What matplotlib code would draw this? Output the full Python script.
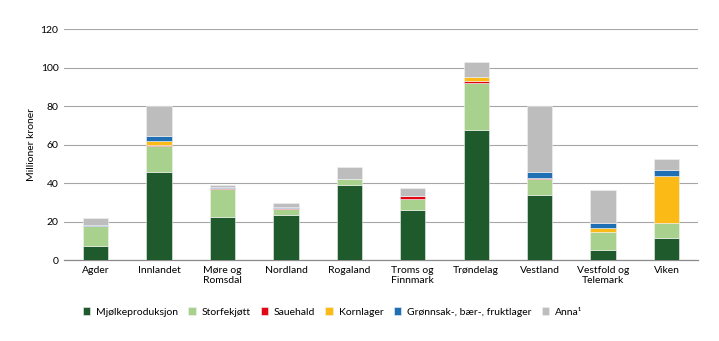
import matplotlib
matplotlib.use("Agg")
import matplotlib.pyplot as plt
import numpy as np

plt.rcParams['font.family'] = ['Lato', 'DejaVu Sans']

regions = ["Agder", "Innlandet", "Møre og\nRomsdal", "Nordland", "Rogaland",
           "Troms og\nFinnmark", "Trøndelag", "Vestland", "Vestfold og\nTelemark", "Viken"]

mjolk    = [7.4, 46.0, 22.5, 23.4, 38.8, 26.0, 67.5, 33.8, 5.2, 11.3]
storfe   = [10.4, 13.5, 14.3, 3.1, 3.2, 5.6, 24.4, 8.3, 9.5, 8.1]
sau      = [0.0, 0.4, 0.4, 0.7, 0.0, 1.7, 1.2, 0.4, 0.0, 0.0]
korn     = [0.0, 2.0, 0.0, 0.0, 0.0, 0.0, 2.1, 0.0, 2.1, 24.4]
gronn    = [0.3, 2.6, 0.6, 0.5, 0.0, 0.0, 0.0, 3.1, 2.3, 3.0]
anna     = [3.6, 15.3, 1.4, 1.8, 6.2, 4.3, 7.6, 34.2, 17.3, 5.6]

series = [
    ("Mjølkeproduksjon", mjolk, "#1e5a2b"),
    ("Storfekjøtt", storfe, "#a9d18e"),
    ("Sauehald", sau, "#e30613"),
    ("Kornlager", korn, "#fbba16"),
    ("Grønnsak-, bær-, fruktlager", gronn, "#1f6fb5"),
    ("Anna¹", anna, "#bdbdbd"),
]

yticks = [0, 20, 40, 60, 80, 100, 120]

fig = plt.figure(figsize=(7.19, 3.41), dpi=100)
ax = fig.add_axes([0.089, 0.2375, 0.882, 0.677])

x = np.arange(len(regions))
bottom = np.zeros(len(regions))
for name, vals, col in series:
    v = np.array(vals)
    ax.bar(x, v, width=0.4, bottom=bottom, color=col, label=name,
           edgecolor='#f2f2f2', linewidth=0.4, zorder=3)
    bottom += v

ax.set_xlim(-0.5, len(regions) - 0.5)
ax.set_ylim(0, 120)
ax.set_yticks(yticks)
ax.set_yticklabels([str(t) for t in yticks], fontsize=7.5)
ax.set_xticks(x)
ax.set_xticklabels(regions, fontsize=7.5, linespacing=1.2)
ax.tick_params(axis='both', length=0, pad=4)
ax.yaxis.grid(True, color='#a6a6a6', linewidth=0.8, zorder=0)
for s in ['top', 'right', 'left']:
    ax.spines[s].set_visible(False)
ax.spines['bottom'].set_color('#8c8c8c')
ax.spines['bottom'].set_linewidth(0.9)
ax.set_ylabel("Millioner kroner", fontsize=7.5, labelpad=3.5)

handles, labels = ax.get_legend_handles_labels()
fig.legend(handles, labels, loc='center left', bbox_to_anchor=(0.115, 0.085), ncol=6,
           frameon=False, fontsize=7.5, handlelength=0.75, handleheight=0.75,
           handletextpad=0.5, columnspacing=1.0, borderaxespad=0, borderpad=0)

fig.savefig("out.png", dpi=100)
